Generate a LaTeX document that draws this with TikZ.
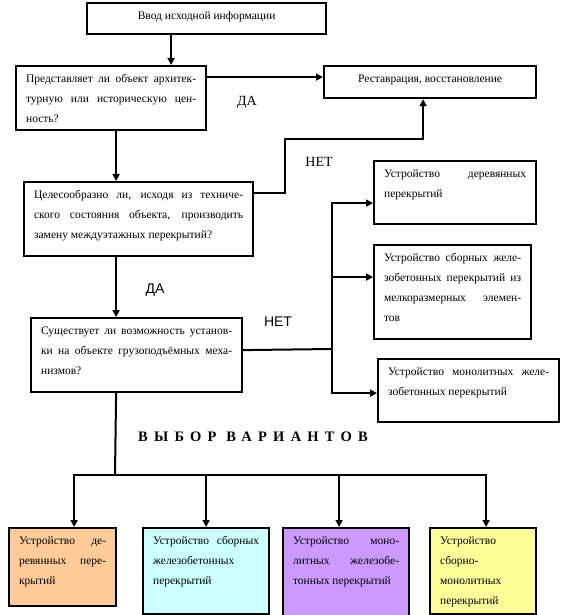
\documentclass[tikz,border=0pt]{standalone}
\usepackage{fontspec}
\setmainfont{Liberation Serif}
\newfontfamily\labelfont{Liberation Sans}
\newfontfamily\titlefont[LetterSpace=43]{Liberation Serif}
\usetikzlibrary{arrows.meta}
\definecolor{myorange}{HTML}{FFCC99}
\definecolor{mycyan}{HTML}{CCFFFF}
\definecolor{mypurple}{HTML}{CC99FF}
\definecolor{myyellow}{HTML}{FFFF99}
% box text: width, height, text (top aligned)
\newcommand{\boxtext}[3]{\parbox[c][#2][t]{#1}{\rule{0pt}{16.5bp}#3}}
\tikzset{
	blk/.style={draw, line width=2.2bp, inner xsep=10bp, inner ysep=0pt, anchor=north west,
		font=\fontsize{11.5bp}{20bp}\selectfont},
	lnk/.style={line width=2bp},
	arr/.style={line width=2bp, -{Triangle[length=7bp,width=7bp]}},
	yesno/.style={font=\fontsize{14bp}{16bp}\selectfont},
	yesnosans/.style={font=\labelfont\fontsize{14bp}{16bp}\selectfont}
}
\begin{document}
\begin{tikzpicture}[x=1bp,y=-1bp]
		\useasboundingbox (0,0) rectangle (571,615);
		
		% input box
		\node[blk] (in) at (86,2) {\boxtext{219bp}{31bp}{\centering Ввод исходной информации}};
		
		% question boxes
		\node[blk] (q1) at (15,65) {\boxtext{170bp}{64bp}{Представляет ли объект архитек-\linebreak турную или историческую цен-\linebreak ность?}};
		\node[blk] (q2) at (23,181) {\boxtext{209bp}{74bp}{Целесообразно ли, исходя из техниче-\linebreak ского состояния объекта, производить\linebreak замену междуэтажных перекрытий?}};
		\node[blk] (q3) at (30,317) {\boxtext{191bp}{74bp}{Существует ли возможность установ-\linebreak ки на объекте грузоподъёмных меха-\linebreak низмов?}};
		
		% restoration box
		\node[blk] (rest) at (323,65) {\boxtext{192bp}{32bp}{\centering Реставрация, восстановление}};
		
		% right boxes
		\node[blk] (wood) at (373,160) {\boxtext{142bp}{63bp}{Устройство деревянных\linebreak перекрытий}};
		\node[blk] (prec) at (373,244) {\boxtext{137bp}{94bp}{Устройство сборных желе-\linebreak зобетонных перекрытий из\linebreak мелкоразмерных элемен-\linebreak тов}};
		\node[blk] (mono) at (377,358) {\boxtext{161bp}{63bp}{Устройство монолитных желе-\linebreak зобетонных перекрытий}};
		
		% variants
		\node[font=\titlefont\bfseries\fontsize{14.5bp}{16bp}\selectfont] (title) at (253,437) {ВЫБОР ВАРИАНТОВ};
		\node[blk, fill=myorange] (b1) at (8,527) {\boxtext{87bp}{78bp}{Устройство де-\linebreak ревянных пере-\linebreak крытий}};
		\node[blk, fill=mycyan] (b2) at (142,527) {\boxtext{106bp}{86bp}{Устройство сборных\linebreak железобетонных\\ перекрытий}};
		\node[blk, fill=mypurple] (b3) at (282,527) {\boxtext{106bp}{92bp}{Устройство моно-\linebreak литных железобе-\linebreak тонных перекрытий}};
		\node[blk, fill=myyellow] (b4) at (429,527) {\boxtext{86bp}{86bp}{Устройство\\ сборно-\\ монолитных\\ перекрытий}};
		
		% yes / no labels
		\node[yesno] (yes1) at (247,102) {ДА};
		\node[yesno] (no1) at (319,162) {НЕТ};
		\node[yesnosans] (yes2) at (155,290) {ДА};
		\node[yesnosans] (no2) at (278,322) {НЕТ};
		
		% connectors
		\draw[arr] ([xshift=-35.5bp]in.south) coordinate (t1) -- (t1 |- q1.north);
		\draw[arr] ([yshift=5bp]rest.west -| q1.east) -- ([yshift=5bp]rest.west);
		\draw[arr] ([xshift=5bp]q1.south) coordinate (t2) -- (t2 |- q2.north);
		\draw[arr] ([yshift=26bp]q2.east) -- ++(31,0) -- ++(0,-54) -| ([xshift=-7bp]rest.south);
		\draw[arr] ([xshift=-22.5bp]q2.south) coordinate (t3) -- (t3 |- q3.north);
		
		% right bus
		\coordinate (bus) at (332,349);
		\draw[lnk] ([yshift=5bp]q3.east) -- (bus);
		\draw[arr] (bus) |- ([yshift=-10.5bp]wood.west);
		\draw[arr] (bus) |- ([yshift=15bp]prec.west);
		\draw[arr] (bus) |- ([yshift=-2.5bp]mono.west);
		
		% bottom bus
		\coordinate (split) at (115,475);
		\draw[lnk] ([xshift=-20.5bp]q3.south) -- (split);
		\draw[arr] (split) -| ([xshift=11.5bp]b1.north);
		\draw[arr] (split) -| (b2.north);
		\draw[arr] (split) -| ([xshift=-7bp]b3.north);
		\draw[arr] (split) -| ([xshift=3bp]b4.north);
	\end{tikzpicture}
\end{document}
